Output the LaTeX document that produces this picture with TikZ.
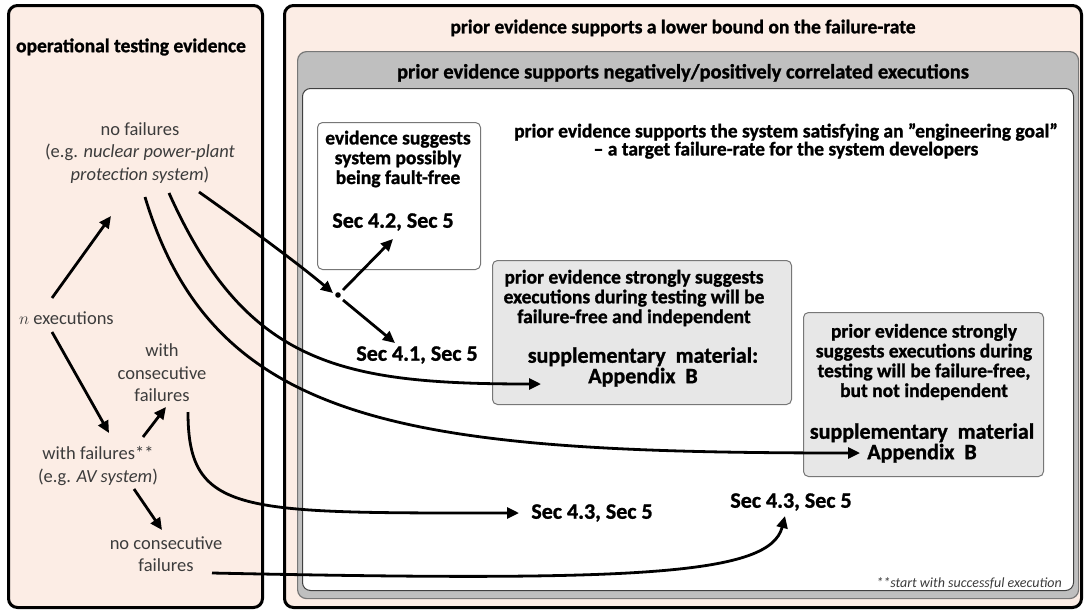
\documentclass[tikz,border=0pt]{standalone}
\usepackage{fontspec}
\setmainfont{Carlito}[BoldFeatures={FakeBold=1.2}]
\usetikzlibrary{arrows.meta,calc}
\definecolor{peach}{HTML}{FCEDE5}
\definecolor{midgray}{HTML}{BFBFBF}
\definecolor{lightgray2}{HTML}{E7E7E7}
\definecolor{bordergray}{HTML}{777777}
\definecolor{txtgray}{HTML}{3C3C3C}
\begin{document}
\begin{tikzpicture}[x=1pt,y=-1pt,
 outerbox/.style={draw=black, line width=3pt, rounded corners=9pt, fill=peach, anchor=north west, inner sep=0},
 graybox/.style={draw=bordergray, line width=1.2pt, rounded corners=9pt, fill=midgray, anchor=north west, inner sep=0},
 whitebox/.style={draw=black!75, line width=1pt, rounded corners=8pt, fill=white, anchor=north west, inner sep=0},
 evbox/.style={draw=bordergray, line width=1pt, rounded corners=5pt, fill=white, anchor=north west, inner sep=0},
 subbox/.style={draw=bordergray, line width=1pt, rounded corners=5pt, fill=lightgray2, anchor=north west, inner sep=0},
 plain/.style={font=\fontsize{18.5}{22.5}\selectfont, text=txtgray, align=center, inner sep=0},
 hd/.style={font=\bfseries\fontsize{19.5}{18}\selectfont, align=center, inner sep=0},
 bx/.style={font=\bfseries\fontsize{19.5}{19.8}\selectfont, align=center, inner sep=0},
 sec/.style={font=\bfseries\fontsize{22}{20.5}\selectfont, align=center, inner sep=0},
 arr/.style={line width=2.8pt, -{Triangle[length=12pt,width=11pt]}},
]
\useasboundingbox (0,0) rectangle (1084,611);
\node[outerbox, minimum width=254, minimum height=602] (left) at (7,4) {};
\node[outerbox, minimum width=797, minimum height=602] (right) at (283,4) {};
\node[graybox, minimum width=781, minimum height=547] (gray) at (297,51) {};
\node[whitebox, minimum width=771, minimum height=502] (white) at (302,88) {};
\node[evbox, minimum width=163, minimum height=147] (ev) at (317,122) {};
\node[subbox, minimum width=299, minimum height=144] (b2) at (492,260) {};
\node[subbox, minimum width=240, minimum height=164] (b3) at (803,312) {};

\node[hd] (t1) at (683,28) {prior evidence supports a lower bound on the failure-rate};
\node[hd, font=\bfseries\fontsize{20.5}{18}\selectfont] (t2) at (683,73) {prior evidence supports negatively/positively correlated executions};
\node[bx, font=\bfseries\fontsize{19.5}{18}\selectfont] (t3) at (786,141) {prior evidence supports the system satisfying an "engineering goal"\\– a target failure-rate for the system developers};

\node[font=\bfseries\fontsize{19.5}{18}\selectfont, inner sep=0] (lt) at (131,47) {operational testing evidence};
\node[plain] (nf) at (140,153) {no failures\\(e.g. \textit{nuclear power-plant}\\\textit{protection system})};
\node[plain, anchor=west] (nex) at (19,318) {$n$ executions};
\node[plain] (wcf) at (162,373) {with\\consecutive\\failures};
\node[plain] (wf) at (98,466) {with failures**\\(e.g. \textit{AV system})};
\node[plain] (ncf) at (166,554) {no consecutive\\failures};

\node[bx] (evt) at (398,159) {evidence suggests\\system possibly\\being fault-free};
\node[sec] (s42) at (393,222) {Sec 4.2, Sec 5};
\node[sec] (s41) at (417,355) {Sec 4.1, Sec 5};
\node[bx] (b2t) at (634,298) {prior evidence strongly suggests\\executions during testing will be\\failure-free and independent};
\node[sec] (b2s) at (643,367) {supplementary\ \ material:\\Appendix\ \ B};
\node[bx] (b3t) at (924,362) {prior evidence strongly\\suggests executions during\\testing will be failure-free,\\but not independent};
\node[sec] (b3s) at (922,443) {supplementary\ \ material\\Appendix\ \ B};
\node[sec] (s43a) at (592,513) {Sec 4.3, Sec 5};
\node[sec] (s43b) at (791,502) {Sec 4.3, Sec 5};
\node[font=\itshape\fontsize{14}{14}\selectfont, text=txtgray, anchor=east, inner sep=0] (foot) at (1062,583) {**start with successful execution};

\coordinate (dot) at (338,295);
\fill (dot) circle (2.8);
% left arrows
\coordinate (a1s) at (52,298); \coordinate (a1e) at (111,216);
\coordinate (a2s) at (52,332); \coordinate (a2e) at (109,433);
\coordinate (a3s) at (143,437); \coordinate (a3e) at (166,407);
\coordinate (a4s) at (134,489); \coordinate (a4e) at (162,530);
\draw[arr] (a1s) -- (a1e);
\draw[arr] (a2s) -- (a2e);
\draw[arr] (a3s) -- (a3e);
\draw[arr] (a4s) -- (a4e);
% dot arrows
\coordinate (d1s) at (343,290); \coordinate (d1e) at (393,239);
\coordinate (d2s) at (343,300); \coordinate (d2e) at (395,343);
\draw[arr] (d1s) -- (d1e);
\draw[arr] (d2s) -- (d2e);
% curves
\coordinate (c1s) at (199,192); \coordinate (c1e) at (333,293);
\draw[arr] (c1s) .. controls (250,228) and (300,265) .. (c1e);
\coordinate (c2s) at (169,193); \coordinate (c2e) at (541,384);
\draw[arr] (c2s) .. controls (246,365) and (341,384) .. (c2e);
\coordinate (c3s) at (145,197); \coordinate (c3e) at (860,453);
\draw[arr] (c3s) .. controls (214,426) and (407,453) .. (c3e);
\coordinate (c4s) at (188,412); \coordinate (c4e) at (519,513);
\draw[arr] (c4s) .. controls (188,515) and (240,513) .. (c4e);
\coordinate (c5s) at (212,573); \coordinate (c5e) at (785,516);
\draw[arr] (c5s) .. controls (640,582) and (770,575) .. (c5e);
\end{tikzpicture}
\end{document}
